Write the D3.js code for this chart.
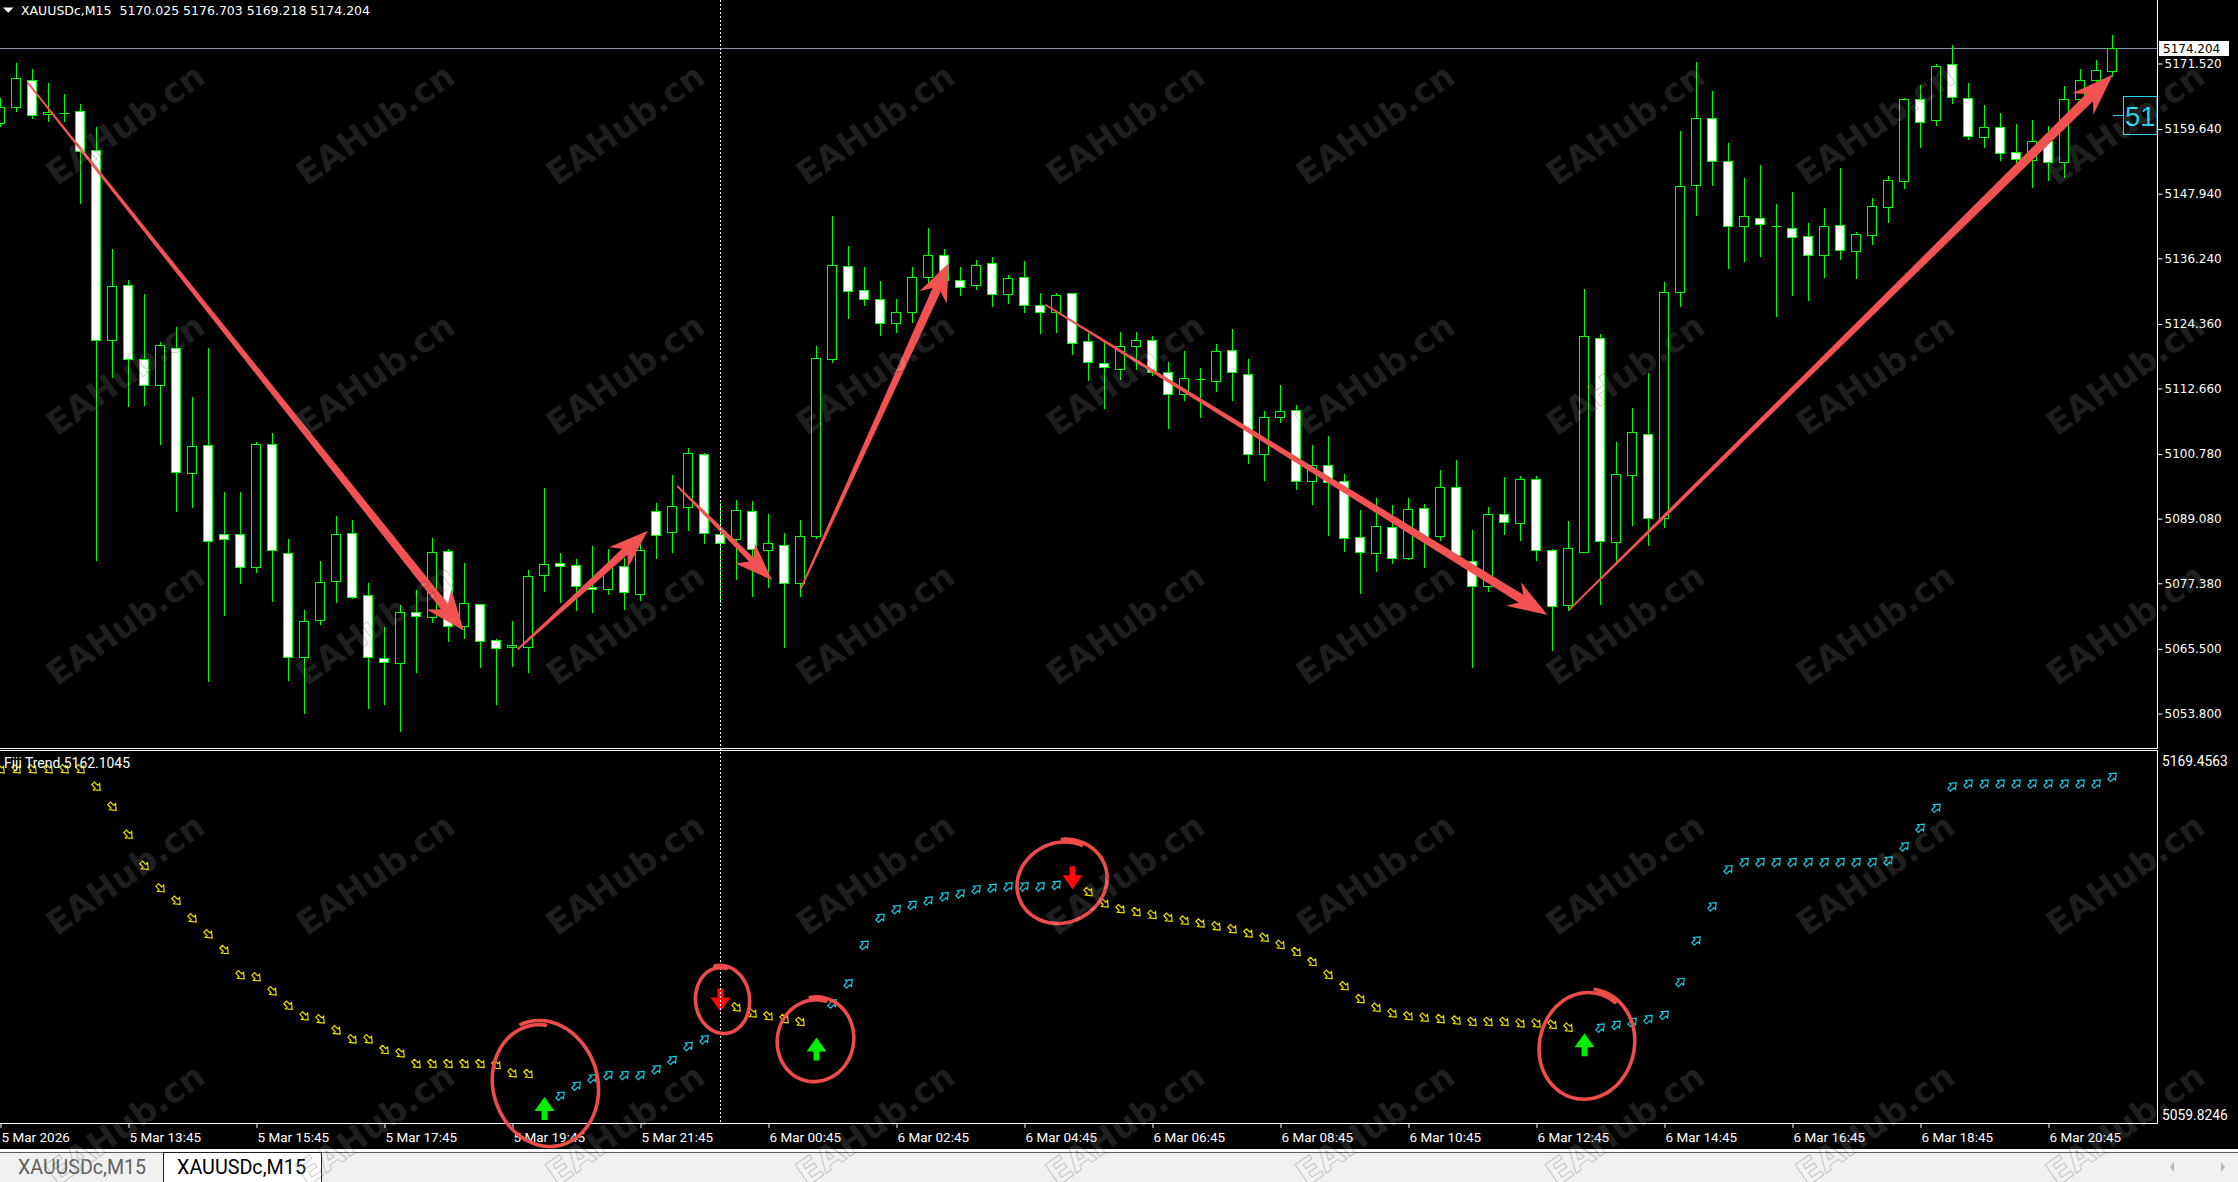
<!DOCTYPE html>
<html>
<head>
<meta charset="utf-8">
<script src="https://cdn.jsdelivr.net/npm/d3@7/dist/d3.min.js"></script>
<style>
html,body{margin:0;padding:0;background:#000;overflow:hidden;}
svg{display:block;}
</style>
</head>
<body>
<svg id="chart" width="2238" height="1182"></svg>
<script>
// ---------------- DATA ----------------
const symbolTitle = "XAUUSDc,M15";
const lastQuote = [5170.025, 5176.703, 5169.218, 5174.204]; // O H L C of the last bar
const indicatorName = "Fiji Trend";
const fijiLabelValue = 5162.1045;

const openP = [5160.62,5163.53,5168.44,5162.20,5162.53,5162.87,5155.79,5121.35,5131.34,5117.94,
5113.12,5119.86,5097.23,5102.30,5086.16,5086.16,5080.26,5102.47,5082.75,5063.95,
5070.61,5077.68,5086.41,5075.18,5063.70,5062.79,5072.11,5071.19,5083.09,5069.53,
5073.52,5066.95,5065.70,5065.70,5078.76,5080.92,5080.59,5076.68,5076.18,5080.42,
5075.35,5090.32,5086.58,5091.07,5100.72,5086.25,5085.25,5090.32,5083.25,5084.17,
5077.35,5085.83,5117.94,5134.75,5130.42,5128.76,5124.52,5126.51,5132.75,5136.74,
5132.25,5131.34,5135.25,5129.76,5132.75,5127.68,5126.35,5129.84,5121.19,5117.11,
5116.11,5120.27,5121.35,5115.53,5111.54,5114.53,5113.87,5119.52,5115.20,5100.64,
5107.38,5108.63,5095.81,5098.73,5095.81,5085.67,5082.75,5087.50,5081.84,5090.91,
5085.83,5094.73,5081.26,5076.76,5089.83,5088.16,5096.15,5083.34,5073.44,5083.00,
5121.69,5084.83,5096.98,5104.30,5089.16,5130.01,5149.47,5161.53,5153.80,5141.99,
5143.48,5141.99,5141.57,5140.15,5136.74,5142.15,5137.49,5140.32,5145.48,5150.14,
5165.03,5161.20,5171.35,5165.19,5158.12,5159.95,5155.38,5153.96,5157.37,5153.63,
5165.03,5168.44,5170.025];

const highP = [5165.28,5171.60,5170.44,5167.94,5165.94,5164.11,5159.95,5137.99,5132.25,5129.84,
5121.02,5123.85,5111.20,5119.94,5093.90,5093.90,5103.05,5104.55,5085.42,5072.60,
5081.34,5089.58,5088.83,5077.35,5069.44,5073.44,5076.10,5085.58,5083.59,5081.09,
5073.52,5067.36,5070.61,5079.84,5094.65,5082.84,5081.75,5084.08,5083.59,5081.92,
5084.42,5091.90,5096.98,5101.89,5101.06,5091.90,5092.40,5092.24,5089.91,5086.41,
5088.91,5120.27,5143.98,5138.41,5134.66,5132.09,5128.92,5134.75,5141.65,5137.99,
5134.66,5135.99,5136.49,5133.17,5135.66,5130.01,5130.01,5130.01,5122.69,5121.02,
5122.93,5122.85,5122.19,5117.44,5119.52,5116.45,5120.77,5123.35,5117.94,5108.63,
5113.37,5109.62,5102.47,5104.05,5097.23,5090.57,5092.90,5091.57,5092.90,5091.74,
5097.98,5099.64,5087.08,5091.24,5096.56,5096.81,5096.81,5083.59,5088.74,5130.75,
5122.52,5102.89,5109.21,5115.53,5132.00,5159.37,5171.85,5166.61,5157.21,5150.80,
5153.05,5146.14,5148.22,5142.57,5145.31,5152.55,5140.99,5147.23,5151.14,5165.28,
5167.61,5171.43,5174.85,5168.02,5164.03,5162.62,5160.62,5161.29,5160.29,5167.44,
5170.44,5172.10,5176.703];

const lowP = [5160.12,5162.95,5161.70,5161.04,5161.04,5146.31,5081.51,5114.78,5109.54,5109.71,
5102.64,5090.49,5091.24,5059.71,5071.69,5077.51,5079.51,5074.19,5059.88,5053.97,
5070.03,5074.02,5074.77,5054.80,5055.55,5050.64,5061.29,5070.44,5066.95,5067.53,
5062.29,5055.55,5062.46,5061.37,5076.02,5074.02,5072.60,5072.11,5075.52,5072.77,
5074.43,5081.92,5083.09,5087.08,5084.75,5074.02,5078.18,5075.10,5076.76,5065.87,
5075.10,5085.50,5117.44,5125.51,5127.84,5122.27,5122.93,5124.68,5131.67,5132.17,
5129.67,5130.75,5127.51,5128.18,5126.43,5122.77,5122.93,5118.94,5114.20,5109.21,
5114.45,5116.28,5115.03,5105.55,5110.54,5107.54,5112.20,5110.54,5099.23,5096.15,
5106.63,5094.48,5091.66,5086.16,5083.25,5075.68,5079.68,5081.09,5081.84,5080.26,
5085.25,5081.92,5062.29,5075.93,5086.33,5085.25,5081.51,5065.28,5072.60,5083.00,
5073.60,5081.09,5087.99,5084.25,5087.50,5127.68,5144.15,5149.56,5134.41,5135.83,
5136.58,5125.85,5129.67,5128.76,5132.92,5136.16,5132.75,5138.74,5142.90,5148.89,
5156.46,5160.45,5164.45,5157.79,5156.46,5153.96,5153.63,5149.22,5150.47,5150.97,
5164.86,5168.27,5169.218];

const closeP = [5163.53,5168.77,5162.12,5162.62,5162.53,5155.54,5121.35,5131.09,5117.94,5113.28,
5120.44,5097.40,5102.14,5085.00,5085.33,5080.26,5102.47,5083.34,5063.95,5070.44,
5077.51,5086.16,5074.77,5063.95,5063.04,5072.11,5071.44,5082.92,5069.61,5073.69,
5066.78,5065.62,5066.12,5078.59,5080.76,5080.42,5076.76,5076.27,5080.26,5075.68,
5083.34,5086.00,5091.24,5100.89,5086.33,5084.67,5090.57,5083.59,5084.58,5077.35,
5085.83,5118.11,5134.91,5130.25,5128.84,5124.52,5126.43,5132.75,5136.74,5132.25,
5131.00,5134.91,5129.76,5132.58,5127.68,5126.35,5129.51,5120.85,5117.44,5116.53,
5120.27,5121.35,5115.61,5111.54,5114.45,5114.28,5119.36,5115.53,5100.64,5107.38,
5108.46,5095.81,5098.73,5095.65,5085.50,5083.00,5087.66,5081.84,5090.74,5085.67,
5094.73,5082.34,5076.76,5089.83,5088.41,5096.15,5083.34,5073.19,5083.67,5122.10,
5085.00,5097.06,5104.72,5089.16,5130.01,5149.22,5161.53,5153.80,5141.99,5143.82,
5142.40,5141.99,5139.99,5136.74,5141.99,5137.66,5140.57,5145.65,5150.30,5165.03,
5160.87,5171.02,5165.44,5158.29,5159.95,5155.30,5154.05,5157.37,5153.63,5165.03,
5168.44,5170.27,5174.204];

// Fiji Trend indicator values (null where a signal arrow replaces the dot)
const fijiValues = [5164.34,5164.34,5164.34,5164.34,5164.34,5164.34,5159.20,5153.29,5145.02,5135.86,
5129.18,5125.51,5120.31,5115.58,5110.94,5103.47,5102.88,5098.74,5094.48,5091.35,
5090.46,5087.21,5084.55,5084.55,5081.39,5080.42,5077.26,5077.26,5077.26,5077.26,
5077.26,5076.96,5074.51,5074.30,null,5067.89,5070.84,5073.03,5074.00,5074.00,
5074.00,5075.69,5078.44,5082.57,5084.55,null,5094.01,5092.22,5091.37,5090.53,
5089.69,null,5095.17,5101.07,5112.46,5120.48,5123.01,5124.27,5125.54,5126.80,
5127.65,5128.91,5129.33,5129.75,5129.75,5129.75,5130.18,null,5128.07,5124.69,
5123.01,5122.16,5121.32,5120.48,5119.63,5118.79,5117.94,5117.10,5115.84,5114.57,
5112.46,5110.35,5107.40,5103.60,5100.23,5096.43,5093.90,5092.22,5091.37,5090.95,
5090.53,5090.11,5089.69,5089.69,5089.69,5089.26,5089.26,5088.84,5088.00,null,
5088.00,5088.84,5089.69,5090.53,5091.79,5101.50,5113.73,5123.85,5134.82,5136.92,
5136.92,5136.92,5136.92,5136.92,5136.92,5136.92,5136.92,5136.92,5137.35,5141.56,
5147.05,5152.95,5159.28,5160.12,5160.12,5160.12,5160.12,5160.12,5160.12,5160.12,
5160.12,5160.12,5162.10];

const signalBars   = [34, 45, 51, 67, 99];
const signalTypes  = ["up", "down", "up", "down", "up"];
const signalValues = [5064.11, 5096.17, 5081.67, 5132.29, 5082.94];

const priceTicks = [5171.520, 5159.640, 5147.940, 5136.240, 5124.360, 5112.660, 5100.780, 5089.080, 5077.380, 5065.500, 5053.800];
const priceRange = [5047.55, 5183.02];
const indicatorRange = [5059.8246, 5169.4563];

const timeTickBars = [0, 8, 16, 24, 32, 40, 48, 56, 64, 72, 80, 88, 96, 104, 112, 120, 128];
const timeTickLabels = ["5 Mar 2026","5 Mar 13:45","5 Mar 15:45","5 Mar 17:45","5 Mar 19:45","5 Mar 21:45",
  "6 Mar 00:45","6 Mar 02:45","6 Mar 04:45","6 Mar 06:45","6 Mar 08:45","6 Mar 10:45","6 Mar 12:45",
  "6 Mar 14:45","6 Mar 16:45","6 Mar 18:45","6 Mar 20:45"];
const crosshairBar = 45;

// hand-drawn annotation arrows (bar index, price)
const arrowFromBar   = [1.67, 32.33, 42.29, 50.0, 65.31, 98.02];
const arrowFromPrice = [5168.17, 5065.44, 5095.00, 5076.26, 5127.84, 5072.51];
const arrowToBar     = [28.96, 40.46, 48.23, 59.27, 96.69, 132.02];
const arrowToPrice   = [5068.78, 5086.91, 5077.92, 5135.41, 5071.64, 5169.51];

// hand-drawn circles in indicator pane (bar index, indicator value)
const circleBars   = [34.0, 45.1, 50.9, 66.3, 99.1];
const circleValues = [5071.20, 5096.17, 5084.35, 5131.04, 5082.87];

// ---------------- LAYOUT ----------------
const W = 2238, H = 1182;
const plotRight = 2157, mainBottom = 748, indTop = 752, indBottom = 1123, chartBottom = 1149;
const RED = "#f25252";

const svg = d3.select("#chart");
svg.append("rect").attr("width", W).attr("height", H).attr("fill", "#000");

const defs = svg.append("defs");
defs.append("clipPath").attr("id", "clipMain").append("rect")
  .attr("x", 0).attr("y", 0).attr("width", plotRight).attr("height", mainBottom);
defs.append("clipPath").attr("id", "clipInd").append("rect")
  .attr("x", 0).attr("y", indTop).attr("width", plotRight).attr("height", indBottom - indTop);

const x = d3.scaleLinear().domain([0, openP.length - 1]).range([0.5, 2112.5]);
const y = d3.scaleLinear().domain(priceRange).range([mainBottom, 0]);
const yi = d3.scaleLinear().domain(indicatorRange).range([indBottom, indTop]);
const snap = v => Math.round(v - 0.5) + 0.5;

// ---------------- MAIN PANE ----------------
const bars = d3.range(openP.length).map(i => ({ i, o: openP[i], h: highP[i], l: lowP[i], c: closeP[i] }));

// price line (last close)
svg.append("line")
  .attr("x1", 0).attr("x2", plotRight)
  .attr("y1", snap(y(lastQuote[3]))).attr("y2", snap(y(lastQuote[3])))
  .attr("stroke", "#8795a6").attr("stroke-width", 1);

const gC = svg.append("g").attr("clip-path", "url(#clipMain)");
gC.selectAll("line.wick").data(bars).join("line").attr("class", "wick")
  .attr("x1", d => x(d.i)).attr("x2", d => x(d.i))
  .attr("y1", d => Math.round(y(d.h))).attr("y2", d => Math.round(y(d.l)) + 1)
  .attr("stroke", "#00ff00").attr("stroke-width", 1);

const isDoji = d => Math.abs(y(d.o) - y(d.c)) < 1.5;
gC.selectAll("rect.body").data(bars.filter(d => !isDoji(d))).join("rect").attr("class", "body")
  .attr("x", d => x(d.i) - 5)
  .attr("width", 9)
  .attr("y", d => snap(Math.min(y(d.o), y(d.c))))
  .attr("height", d => snap(Math.max(y(d.o), y(d.c))) - snap(Math.min(y(d.o), y(d.c))))
  .attr("fill", d => d.c >= d.o ? "#000" : "#fff")
  .attr("stroke", "#00ff00").attr("stroke-width", 1);
gC.selectAll("line.doji").data(bars.filter(isDoji)).join("line").attr("class", "doji")
  .attr("x1", d => x(d.i) - 5).attr("x2", d => x(d.i) + 5)
  .attr("y1", d => snap(y(d.c))).attr("y2", d => snap(y(d.c)))
  .attr("stroke", "#00ff00").attr("stroke-width", 1);

// annotation arrows
const shaftW = [9, 8, 6, 9, 9, 10], headL = [40, 40, 38, 38, 40, 42], headHW = [16, 14, 14, 15, 14, 15];
function taperArrow(x0, y0, x1, y1, w0, w1, hl, hw) {
  const dx = x1 - x0, dy = y1 - y0, len = Math.hypot(dx, dy);
  const ux = dx / len, uy = dy / len, nx = -uy, ny = ux;
  const bx = x1 - ux * hl, by = y1 - uy * hl;
  const jx = x1 - ux * hl * 0.78, jy = y1 - uy * hl * 0.78;
  return [
    [x0 + nx * w0 / 2, y0 + ny * w0 / 2],
    [jx + nx * w1 / 2, jy + ny * w1 / 2],
    [bx + nx * hw, by + ny * hw],
    [x1, y1],
    [bx - nx * hw, by - ny * hw],
    [jx - nx * w1 / 2, jy - ny * w1 / 2],
    [x0 - nx * w0 / 2, y0 - ny * w0 / 2]
  ];
}
const gA = svg.append("g");
arrowFromBar.forEach((fb, k) => {
  const pts = taperArrow(x(fb), y(arrowFromPrice[k]), x(arrowToBar[k]), y(arrowToPrice[k]), 1.8, shaftW[k], headL[k], headHW[k]);
  gA.append("path").attr("d", d3.line()(pts) + "Z").attr("fill", RED);
});

// cyan price label for indicator value
const fy = y(fijiLabelValue);
svg.append("line").attr("x1", 2113).attr("x2", 2123).attr("y1", snap(fy)).attr("y2", snap(fy))
  .attr("stroke", "#22d6ee").attr("stroke-width", 1);
defs.append("clipPath").attr("id", "clipLbl").append("rect")
  .attr("x", 2123.5).attr("y", fy - 19).attr("width", 33.5).attr("height", 38);
svg.append("rect").attr("x", 2123.5).attr("y", Math.round(fy - 19) + 0.5).attr("width", 33.5).attr("height", 38)
  .attr("fill", "#000").attr("stroke", "#22d6ee").attr("stroke-width", 1);
svg.append("text").attr("clip-path", "url(#clipLbl)")
  .attr("x", 2125).attr("y", fy + 11)
  .attr("font-family", "Liberation Sans, Arial, sans-serif").attr("font-size", 27.5)
  .attr("fill", "#22d6ee").text(fijiLabelValue.toFixed(4));

// frames
svg.append("line").attr("x1", 0).attr("x2", plotRight + 0.5).attr("y1", 748.5).attr("y2", 748.5).attr("stroke", "#fff");
svg.append("line").attr("x1", plotRight + 0.5).attr("x2", plotRight + 0.5).attr("y1", 0).attr("y2", 748.5).attr("stroke", "#fff");
svg.append("line").attr("x1", 0).attr("x2", plotRight + 0.5).attr("y1", 750.5).attr("y2", 750.5).attr("stroke", "#fff");
svg.append("line").attr("x1", 0).attr("x2", plotRight + 0.5).attr("y1", 1123.5).attr("y2", 1123.5).attr("stroke", "#fff");
svg.append("line").attr("x1", plotRight + 0.5).attr("x2", plotRight + 0.5).attr("y1", 750.5).attr("y2", 1123.5).attr("stroke", "#fff");

// price axis
const yAxis = d3.axisRight(y).tickValues(priceTicks).tickFormat(d3.format(".3f")).tickSize(5).tickPadding(2);
const gY = svg.append("g").attr("transform", `translate(${plotRight + 0.5},0)`).call(yAxis);
gY.select(".domain").remove();
gY.selectAll(".tick line").attr("stroke", "#fff");
gY.selectAll(".tick text").attr("fill", "#fff").attr("font-family", "DejaVu Sans, sans-serif").attr("font-size", 12);

// current price box
const cy = y(lastQuote[3]);
svg.append("rect").attr("x", 2159).attr("y", Math.round(cy - 7.5)).attr("width", 70).attr("height", 15).attr("fill", "#fff");
svg.append("text").attr("x", 2163).attr("y", cy).attr("dy", "0.36em")
  .attr("font-family", "DejaVu Sans, sans-serif").attr("font-size", 12).attr("fill", "#000")
  .text(d3.format(".3f")(lastQuote[3]));

// header
svg.append("path").attr("d", "M3,7.5L13.5,7.5L8.25,12.8Z").attr("fill", "#fff");
svg.append("text").attr("x", 21).attr("y", 10).attr("dy", "0.36em")
  .attr("font-family", "DejaVu Sans, sans-serif").attr("font-size", 12.5).attr("fill", "#fff")
  .attr("textLength", 349).attr("lengthAdjust", "spacingAndGlyphs").attr("xml:space", "preserve")
  .text(symbolTitle + "  " + lastQuote.map(d3.format(".3f")).join(" "));

// ---------------- INDICATOR PANE ----------------
const dirs = [];
{
  let cur = "down";
  for (let i = 0; i < fijiValues.length; i++) {
    const k = signalBars.indexOf(i);
    if (k >= 0) cur = signalTypes[k];
    dirs.push(cur);
  }
}
const hollow = "M-2,-5L2,-5L2,0L4.6,0L0,5.5L-4.6,0L-2,0Z";
const gI = svg.append("g").attr("clip-path", "url(#clipInd)");
const dots = fijiValues.map((v, i) => ({ i, v, dir: dirs[i] })).filter(d => d.v !== null);
gI.selectAll("path.dot").data(dots).join("path").attr("class", "dot")
  .attr("d", hollow)
  .attr("transform", d => `translate(${x(d.i)},${yi(d.v)}) rotate(${d.dir === "down" ? -45 : 225}) scale(0.95)`)
  .attr("fill", "#000")
  .attr("stroke", d => d.dir === "down" ? "#f2e600" : "#1fd0e6")
  .attr("stroke-width", 1.2);

const sigPath = "M0,-11.5L10,2.5L3,2.5L3,11.5L-3,11.5L-3,2.5L-10,2.5Z";
gI.selectAll("path.sig").data(signalBars.map((b, k) => ({ b, t: signalTypes[k], v: signalValues[k] }))).join("path")
  .attr("class", "sig").attr("d", sigPath)
  .attr("transform", d => `translate(${x(d.b)},${yi(d.v)}) rotate(${d.t === "up" ? 0 : 180})`)
  .attr("fill", d => d.t === "up" ? "#00f000" : "#ff0a0a");

svg.append("text").attr("x", 4).attr("y", 763).attr("dy", "0.36em")
  .attr("font-family", "Roboto, sans-serif").attr("font-size", 13.8).attr("fill", "#fff")
  .attr("textLength", 126).attr("lengthAdjust", "spacingAndGlyphs")
  .text(indicatorName + " " + fijiLabelValue.toFixed(4));

svg.append("text").attr("x", 2162).attr("y", yi(indicatorRange[1]) + 9).attr("dy", "0.36em")
  .attr("font-family", "Roboto, sans-serif").attr("font-size", 13.8).attr("fill", "#fff")
  .text(indicatorRange[1].toFixed(4));
svg.append("text").attr("x", 2162).attr("y", yi(indicatorRange[0]) - 8).attr("dy", "0.36em")
  .attr("font-family", "Roboto, sans-serif").attr("font-size", 13.8).attr("fill", "#fff")
  .text(indicatorRange[0].toFixed(4));

// crosshair dotted line
svg.append("line").attr("x1", x(crosshairBar)).attr("x2", x(crosshairBar)).attr("y1", 0).attr("y2", 1123)
  .attr("stroke", "#fff").attr("stroke-width", 1).attr("stroke-dasharray", "2,2");

// time axis
const xAxis = d3.axisBottom(x).tickValues(timeTickBars).tickFormat((d, i) => timeTickLabels[i]).tickSize(4).tickPadding(0);
const gX = svg.append("g").attr("transform", "translate(0,1124)").call(xAxis);
gX.select(".domain").remove();
gX.selectAll(".tick line").attr("stroke", "#fff");
gX.selectAll(".tick text").attr("fill", "#fff").attr("font-family", "Roboto, sans-serif").attr("font-size", 13.5)
  .attr("text-anchor", "start").attr("x", 0.5).attr("y", 13).attr("dy", "0.36em");

// hand-drawn circles
const circleR = [[55, 64], [27, 36], [38, 45], [46, 43], [51, 54]];
function handCircle(cx, cy, rx, ry, k) {
  const pts = [];
  const a0 = -2.0 + k * 0.15;
  const n = 72;
  for (let j = 0; j <= n; j++) {
    const t = j / n;
    const a = a0 + t * (2 * Math.PI + 0.45);
    const s = 1 + 0.045 * Math.sin(2 * a + k) - 0.07 * t;
    pts.push([cx + rx * s * Math.cos(a), cy + ry * s * Math.sin(a)]);
  }
  return d3.line().curve(d3.curveCatmullRom)(pts);
}
circleBars.forEach((b, k) => {
  svg.append("path").attr("d", handCircle(x(b), yi(circleValues[k]), circleR[k][0], circleR[k][1], k))
    .attr("fill", "none").attr("stroke", "#ee4b4b").attr("stroke-width", 3.6).attr("stroke-linecap", "round");
});

// ---------------- TAB BAR ----------------
svg.append("rect").attr("x", 0).attr("y", chartBottom).attr("width", W).attr("height", H - chartBottom).attr("fill", "#f0f0f0");
svg.append("line").attr("x1", 0).attr("x2", W).attr("y1", 1150.5).attr("y2", 1150.5).attr("stroke", "#ffffff").attr("stroke-width", 2);
svg.append("line").attr("x1", 0).attr("x2", W).attr("y1", 1152.5).attr("y2", 1152.5).attr("stroke", "#5a5a5a");
svg.append("rect").attr("x", 163.5).attr("y", 1152.5).attr("width", 158).attr("height", 31).attr("fill", "#fff").attr("stroke", "#1e1e1e");
svg.append("text").attr("x", 18).attr("y", 1167).attr("dy", "0.36em")
  .attr("font-family", "Roboto, sans-serif").attr("font-size", 19.5).attr("fill", "#606060")
  .attr("textLength", 128).attr("lengthAdjust", "spacingAndGlyphs").text(symbolTitle);
svg.append("text").attr("x", 177).attr("y", 1167).attr("dy", "0.36em")
  .attr("font-family", "Roboto, sans-serif").attr("font-size", 19.5).attr("fill", "#000")
  .attr("textLength", 129).attr("lengthAdjust", "spacingAndGlyphs").text(symbolTitle);
svg.append("path").attr("d", "M2174,1162L2170,1167L2174,1172Z").attr("fill", "#b4b4b4");
svg.append("path").attr("d", "M2221,1162L2225,1167L2221,1172Z").attr("fill", "#b4b4b4");

// ---------------- WATERMARK ----------------
const wm = svg.append("g");
for (let r = 0; r < 5; r++) {
  for (let c = 0; c < 9; c++) {
    wm.append("text")
      .attr("transform", `translate(${125 + 250 * c},${124 + 250 * r}) rotate(-35)`)
      .attr("text-anchor", "middle").attr("dy", "0.36em")
      .attr("font-family", "DejaVu Sans, sans-serif").attr("font-weight", "bold").attr("font-size", 34)
      .attr("fill", "rgba(255,255,255,0.15)").attr("stroke", "rgba(0,0,0,0.22)").attr("stroke-width", 1)
      .text("EAHub.cn");
  }
}
</script>
</body>
</html>
